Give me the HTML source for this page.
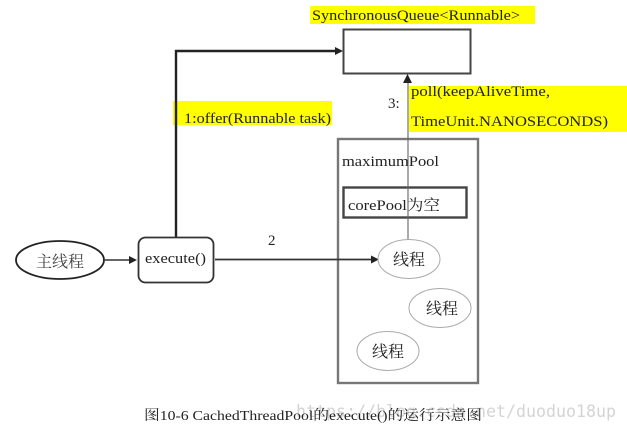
<!DOCTYPE html>
<html><head><meta charset="utf-8"><style>
html,body{margin:0;padding:0;background:#fff}
svg{display:block;filter:blur(.35px);fill:#222}
text{font-family:"Liberation Serif","Noto Serif CJK SC",serif}
</style></head><body>
<svg width="627" height="430" viewBox="0 0 627 430" xmlns="http://www.w3.org/2000/svg">
<rect x="310" y="6" width="225" height="18" fill="#ffff00"/>
<rect x="173" y="101" width="159" height="24" fill="#ffff00"/>
<rect x="409" y="86" width="218" height="46" fill="#ffff00"/>
<text x="312" y="20" font-size="15" textLength="208" lengthAdjust="spacingAndGlyphs">SynchronousQueue&lt;Runnable&gt;</text>
<rect x="343.5" y="29.5" width="127" height="44" fill="#fff" stroke="#444" stroke-width="2"/>
<path d="M176 237V51H335" fill="none" stroke="#222" stroke-width="2.4"/>
<path d="M343 51l-8-4v8z" fill="#222"/>
<text x="184" y="123" font-size="15" textLength="147" lengthAdjust="spacingAndGlyphs">1:offer(Runnable task)</text>
<text x="388" y="108" font-size="15">3:</text>
<text x="411" y="96" font-size="15" textLength="139" lengthAdjust="spacingAndGlyphs">poll(keepAliveTime,</text>
<text x="411" y="126" font-size="15" textLength="197" lengthAdjust="spacingAndGlyphs">TimeUnit.NANOSECONDS)</text>
<rect x="338" y="139" width="140" height="244" fill="none" stroke="#777" stroke-width="2.4"/>
<text x="342" y="166" font-size="15" textLength="97" lengthAdjust="spacingAndGlyphs">maximumPool</text>
<rect x="343.5" y="187.5" width="123" height="30" fill="none" stroke="#444" stroke-width="2.4"/>
<text x="348" y="210" font-size="15" textLength="92" lengthAdjust="spacingAndGlyphs">corePool为空</text>
<path d="M408 240V82" fill="none" stroke="#666" stroke-width="1.1"/>
<path d="M407.500 74l-4.500 9h9z" fill="#222"/>
<ellipse cx="60" cy="260" rx="44" ry="19" fill="#fff" stroke="#222" stroke-width="1.800"/>
<text x="36" y="267" font-size="16" fill="#444">主线程</text>
<path d="M105 260H130" stroke="#333" stroke-width="1.500"/>
<path d="M137 260l-8-4v8z" fill="#222"/>
<rect x="138.500" y="237.500" width="75" height="45" rx="7" fill="#fff" stroke="#333" stroke-width="1.800"/>
<text x="145" y="263" font-size="15" textLength="61" lengthAdjust="spacingAndGlyphs">execute()</text>
<text x="268" y="245" font-size="15">2</text>
<path d="M215 259.500H371" stroke="#333" stroke-width="1.800"/>
<path d="M379 259.500l-8-4v8z" fill="#222"/>
<ellipse cx="409" cy="259" rx="31" ry="19.500" fill="#fff" stroke="#aaa"/>
<text x="393" y="265" font-size="16">线程</text>
<ellipse cx="440" cy="308" rx="31" ry="19.500" fill="#fff" stroke="#aaa"/>
<text x="426" y="314" font-size="16">线程</text>
<ellipse cx="388" cy="351" rx="31" ry="19.500" fill="#fff" stroke="#aaa"/>
<text x="372" y="357" font-size="16">线程</text>
<text x="296" y="417" font-size="17" fill="#d4d4d4" style="font-family:'DejaVu Sans Mono',monospace" textLength="320" lengthAdjust="spacingAndGlyphs">https://blog.csdn.net/duoduo18up</text>
<text x="144" y="420" font-size="14" textLength="338" lengthAdjust="spacingAndGlyphs">图10-6  CachedThreadPool的execute()的运行示意图</text>
</svg>
</body></html>
